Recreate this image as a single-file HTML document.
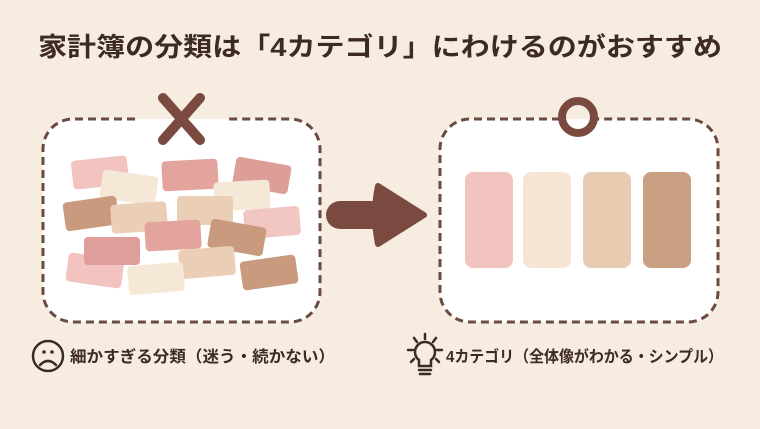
<!DOCTYPE html><html><head><meta charset="utf-8"><style>
body{margin:0;width:760px;height:424px;background:#f6ece0;overflow:hidden}
text{font-family:"Liberation Sans","Noto Sans CJK JP",sans-serif;font-weight:bold;fill:#3d2a22}
</style></head><body>
<svg width="760" height="424" viewBox="0 0 760 424">
<text x="380" y="56" font-size="26" text-anchor="middle" textLength="684" lengthAdjust="spacingAndGlyphs">家計簿の分類は「4カテゴリ」にわけるのがおすすめ</text>
<rect x="43" y="119" width="277" height="203" rx="30" fill="#fff"/>
<path d="M135 119 H73 a30 30 0 0 0 -30 30 V292 a30 30 0 0 0 30 30 H290 a30 30 0 0 0 30 -30 V149 a30 30 0 0 0 -30 -30 H227" fill="none" stroke="#6b4a40" stroke-width="3" stroke-dasharray="8 5"/>
<g stroke="#7a4a40" stroke-width="10" stroke-linecap="round"><line x1="163" y1="98" x2="200" y2="140"/><line x1="200" y1="98" x2="163" y2="140"/></g>
<g>
<rect x="-28" y="-14" width="56" height="29" rx="4" fill="#f2c3bf" transform="translate(100,172) rotate(-6)"/>
<rect x="-28" y="-14" width="56" height="29" rx="4" fill="#f6e8d6" transform="translate(129,187) rotate(8)"/>
<rect x="-28" y="-15" width="56" height="30" rx="4" fill="#e3a49e" transform="translate(190,175) rotate(-3)"/>
<rect x="-28" y="-14" width="56" height="29" rx="4" fill="#dc9e96" transform="translate(262,175) rotate(10)"/>
<rect x="-28" y="-14" width="56" height="29" rx="4" fill="#f6e8d6" transform="translate(242,195) rotate(-3)"/>
<rect x="-28" y="-14" width="56" height="29" rx="4" fill="#eacfb6" transform="translate(205,210)"/>
<rect x="-28" y="-14" width="56" height="29" rx="4" fill="#f2c6c2" transform="translate(272,222) rotate(-5)"/>
<rect x="-27" y="-14" width="54" height="29" rx="4" fill="#c99a7e" transform="translate(91,213) rotate(-8)"/>
<rect x="-28" y="-14" width="56" height="29" rx="4" fill="#eacfb6" transform="translate(139,217) rotate(-4)"/>
<rect x="-28" y="-14" width="56" height="29" rx="4" fill="#e3a49e" transform="translate(173,235) rotate(-3)"/>
<rect x="-28" y="-14" width="56" height="29" rx="4" fill="#c99a7e" transform="translate(237,237) rotate(10)"/>
<rect x="-28" y="-14" width="56" height="29" rx="4" fill="#f2c3bf" transform="translate(95,270) rotate(8)"/>
<rect x="-28" y="-14" width="56" height="28" rx="4" fill="#df9e99" transform="translate(112,251)"/>
<rect x="-28" y="-14" width="56" height="29" rx="4" fill="#eacfb6" transform="translate(207,262) rotate(-5)"/>
<rect x="-28" y="-14" width="56" height="29" rx="4" fill="#f6e8d6" transform="translate(156,278) rotate(-5)"/>
<rect x="-28" y="-14" width="56" height="29" rx="4" fill="#c99a7e" transform="translate(269,272) rotate(-8)"/>
</g>
<path d="M340 215 H385" stroke="#7a4a40" stroke-width="28" stroke-linecap="round"/>
<path d="M378 186 L424 215 L378 244 Q372 215 378 186Z" fill="#7a4a40" stroke="#7a4a40" stroke-width="6" stroke-linejoin="round"/>
<rect x="440" y="119" width="278" height="203" rx="30" fill="#fff"/>
<path d="M560 119 H470 a30 30 0 0 0 -30 30 V292 a30 30 0 0 0 30 30 H688 a30 30 0 0 0 30 -30 V149 a30 30 0 0 0 -30 -30 H596" fill="none" stroke="#6b4a40" stroke-width="3" stroke-dasharray="8 5"/>
<circle cx="578" cy="117" r="16" fill="none" stroke="#7a4a40" stroke-width="8"/>
<rect x="465" y="172" width="48" height="96" rx="8" fill="#f1c4c0"/>
<rect x="523" y="172" width="48" height="96" rx="8" fill="#f5e6d4"/>
<rect x="583" y="172" width="48" height="96" rx="8" fill="#e7ccb1"/>
<rect x="643" y="172" width="48" height="96" rx="8" fill="#cba082"/>
<g fill="none" stroke="#3d2a22" stroke-width="2.5" stroke-linecap="round">
<circle cx="48" cy="356" r="15"/><path d="M40 365 Q48 357 56 365"/>
<path d="M419 360 a10 10 0 1 1 12 0 v6 h-12z"/><path d="M419 370 h12 M420 374 h10"/>
<path d="M425 334 v5 M414 338 l3 4 M436 338 l-3 4 M408 350 h5 M437 350 h5 M411 362 l3 -3 M439 362 l-3 -3"/>
</g>
<circle cx="44" cy="352" r="1.8" fill="#3d2a22"/><circle cx="52" cy="352" r="1.8" fill="#3d2a22"/>
<text x="70" y="362" font-size="16" textLength="265" lengthAdjust="spacingAndGlyphs">細かすぎる分類（迷う・続かない）</text>
<text x="446" y="362" font-size="16" textLength="277" lengthAdjust="spacingAndGlyphs">4カテゴリ（全体像がわかる・シンプル）</text>
</svg>
</body></html>
